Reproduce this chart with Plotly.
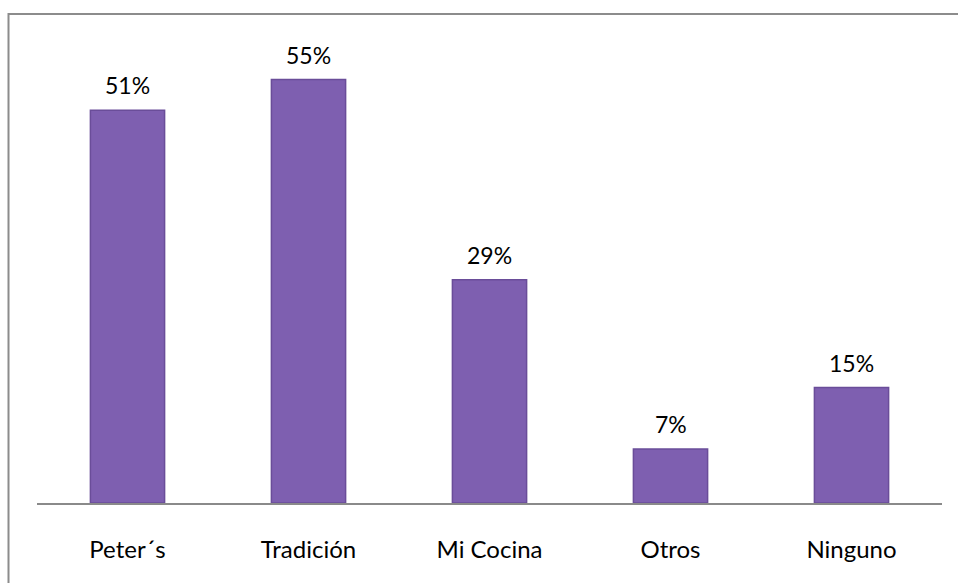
import plotly.graph_objects as go

categories = ["Peter\u00b4s", "Tradición", "Mi Cocina", "Otros", "Ninguno"]
values = [51, 55, 29, 7, 15]
labels = ["51%", "55%", "29%", "7%", "15%"]

W, H = 958, 583
px_per_unit = 7.7
base_px = 503
top_px = 20
y_top = (base_px - top_px) / px_per_unit

FONT = "Lato, Carlito, sans-serif"

fig = go.Figure()
fig.add_trace(go.Bar(
    x=categories, y=values,
    width=0.41,
    marker=dict(color="#7e5fb0", line=dict(color="#6a4d99", width=1.5)),
    hoverinfo="skip",
))

for c, v, t in zip(categories, values, labels):
    fig.add_annotation(x=c, y=v, text=t, showarrow=False, yanchor="bottom",
                       yshift=9, font=dict(size=23, color="#000000", family=FONT))

fig.update_layout(
    width=W, height=H,
    margin=dict(l=0, r=0, t=0, b=0),
    paper_bgcolor="white", plot_bgcolor="white",
    showlegend=False,
    font=dict(family=FONT, size=24, color="#000000"),
    xaxis=dict(domain=[37 / W, 942 / W], showgrid=False, showline=True,
               linecolor="#8a8a8a", linewidth=1.5, ticks="", ticklabelstandoff=24,
               tickfont=dict(size=24)),
    yaxis=dict(domain=[(H - base_px) / H, 1 - top_px / H], range=[0, y_top],
               showgrid=False, showticklabels=False, zeroline=False, showline=False),
    shapes=[dict(type="rect", xref="paper", yref="paper",
                 x0=8.5 / W, x1=1.01, y0=-0.01, y1=1 - 14 / H,
                 line=dict(color="#8c8c8c", width=2))],
)

fig.write_html("out.html")
